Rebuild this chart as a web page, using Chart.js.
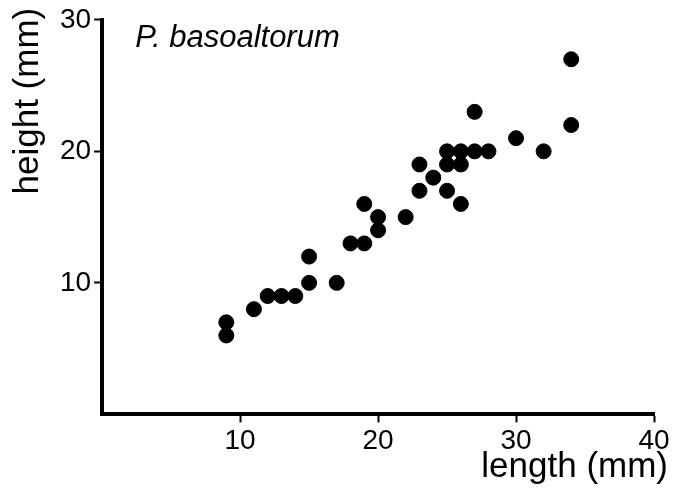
<!DOCTYPE html>
<html>
<head>
<meta charset="utf-8">
<script src="https://cdn.jsdelivr.net/npm/chart.js@4"></script>
<style>
  html, body { margin: 0; padding: 0; background: #fff; }
  #wrap { width: 682px; height: 489px; }
</style>
</head>
<body>
<div id="wrap"><canvas id="scatter" width="682" height="489"></canvas></div>
<script>
// shell length vs height, P. basoaltorum
const lengths = [9, 9, 11, 12, 13, 14, 15, 15, 17, 18, 19, 19, 20, 20, 22, 23, 23, 24, 25, 25, 25, 26, 26, 26, 27, 27, 28, 30, 32, 34, 34];
const heights = [7, 6, 8, 9, 9, 9, 12, 10, 10, 13, 13, 16, 15, 14, 15, 17, 19, 18, 20, 19, 17, 20, 19, 16, 23, 20, 20, 21, 20, 27, 22];
const xTicks = [10, 20, 30, 40];
const yTicks = [10, 20, 30];
const speciesLabel = 'P. basoaltorum';
const xTitle = 'length (mm)';
const yTitle = 'height (mm)';

const FONT = '"Liberation Sans", Arial, sans-serif';
const points = lengths.map((x, i) => ({ x: x, y: heights[i] }));

// species name + axis titles (they hang past the axis ends, so drawn by hand)
const labelPlugin = {
    id: 'labels',
    afterDraw(chart) {
        const ctx = chart.ctx;
        const xs = chart.scales.x, ys = chart.scales.y;
        const area = chart.chartArea;
        ctx.save();
        ctx.fillStyle = '#000';
        ctx.textBaseline = 'alphabetic';

        ctx.font = 'italic 31px ' + FONT;
        ctx.textAlign = 'left';
        ctx.fillText(speciesLabel, xs.getPixelForValue(2.4), ys.getPixelForValue(27.9));

        ctx.font = '35px ' + FONT;
        ctx.textAlign = 'right';
        ctx.fillText(xTitle, area.right + 14, 477);

        ctx.translate(38, area.top - 12);
        ctx.rotate(-Math.PI / 2);
        ctx.textAlign = 'right';
        ctx.fillText(yTitle, 0, 0);
        ctx.restore();
    }
};

const hideZero = ctx => ctx.tick && ctx.tick.value === 0 ? 'rgba(0,0,0,0)' : '#000';

new Chart(document.getElementById('scatter'), {
    type: 'scatter',
    data: {
        datasets: [{
            data: points,
            backgroundColor: '#000',
            borderColor: '#000',
            pointRadius: 7.5,
            pointHoverRadius: 7.5
        }]
    },
    options: {
        responsive: false,
        animation: false,
        layout: { padding: { top: 12, right: 28, left: 57, bottom: 29 } },
        plugins: { legend: { display: false }, tooltip: { enabled: false } },
        scales: {
            x: {
                type: 'linear',
                min: 0, max: 40,
                afterBuildTicks: axis => { axis.ticks = [0].concat(xTicks).map(v => ({ value: v })); },
                border: { display: true, color: '#000', width: 4 },
                grid: { drawOnChartArea: false, drawTicks: true, tickLength: 8, tickWidth: 2, color: hideZero },
                ticks: {
                    color: '#000', padding: 2,
                    font: { family: FONT, size: 28 },
                    callback: v => v === 0 ? '' : v
                }
            },
            y: {
                type: 'linear',
                min: 0, max: 30,
                afterBuildTicks: axis => { axis.ticks = [0].concat(yTicks).map(v => ({ value: v })); },
                border: { display: true, color: '#000', width: 4 },
                grid: { drawOnChartArea: false, drawTicks: true, tickLength: 8, tickWidth: 2, color: hideZero },
                ticks: {
                    color: '#000', padding: 3,
                    font: { family: FONT, size: 28 },
                    callback: v => v === 0 ? '' : v
                }
            }
        }
    },
    plugins: [labelPlugin]
});
</script>
</body>
</html>
